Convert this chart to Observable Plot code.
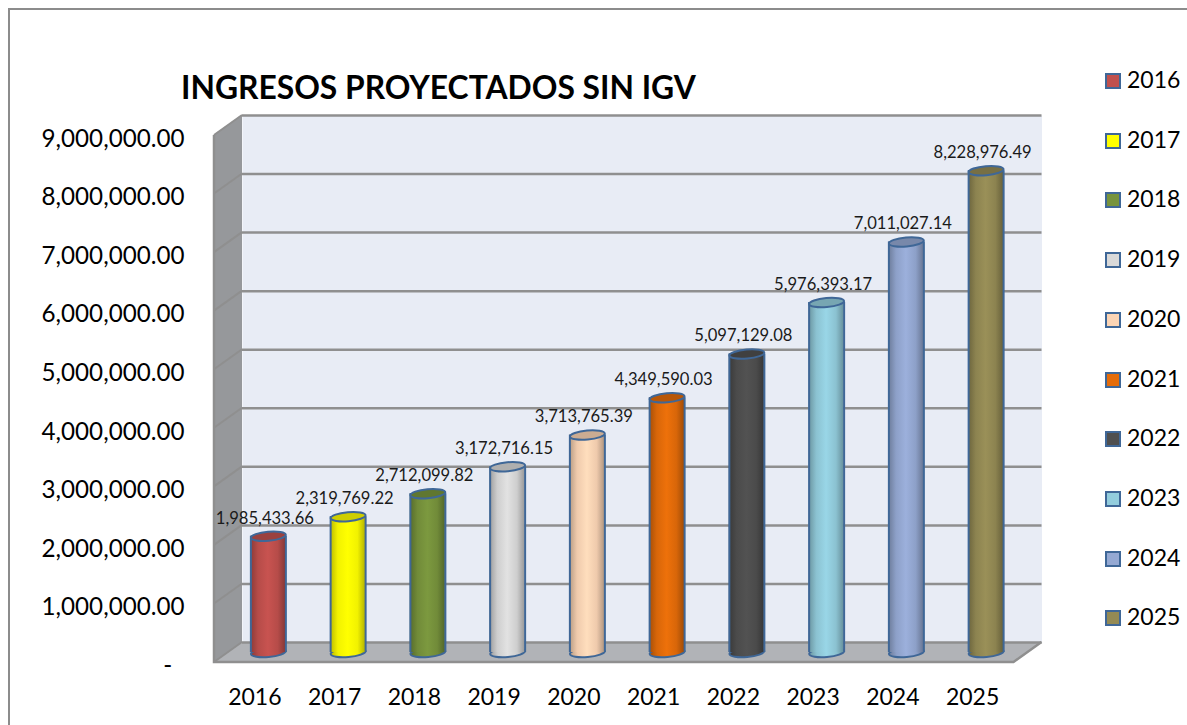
<!DOCTYPE html>
<html>
<head>
<meta charset="utf-8">
<script src="https://cdn.jsdelivr.net/npm/d3@7"></script>
<script src="https://cdn.jsdelivr.net/npm/@observablehq/plot@0.6"></script>
<style>
  html,body{margin:0;padding:0;background:#fff;overflow:hidden}
  #wrap{position:relative;width:1187px;height:725px;font-family:Lato,sans-serif;color:#000}
  #border{position:absolute;left:8px;top:8px;right:0;bottom:0;border-top:2px solid #8c8c8c;border-left:2px solid #8c8c8c}
  #title{position:absolute;left:181px;top:69px;font-weight:700;font-size:31.8px;line-height:36px;white-space:nowrap}
  #legend{position:absolute;left:1105px;top:0}
  .item{position:absolute;left:0;height:28px;white-space:nowrap;font-size:23px;line-height:28px}
  .sw{position:absolute;left:0;top:6px;width:12px;height:12px;border:2px solid #3f6797}
  .lb{position:absolute;left:22px;top:-2px}
  svg{position:absolute;left:0;top:0}
</style>
</head>
<body>
<div id="wrap">
  <div id="border"></div>
  <div id="title">INGRESOS PROYECTADOS SIN IGV</div>
  <div id="legend"></div>
</div>
<script>
const years = [2016, 2017, 2018, 2019, 2020, 2021, 2022, 2023, 2024, 2025];
const values = [1985433.66, 2319769.22, 2712099.82, 3172716.15, 3713765.39, 4349590.03, 5097129.08, 5976393.17, 7011027.14, 8228976.49];
const colors = ["#C0504D", "#FFFF00", "#77933C", "#D9D9D9", "#FCD5B5", "#E46C0A", "#4F4F4F", "#93CDDD", "#95A9D3", "#948A54"];
const tickValues = [0, 1e6, 2e6, 3e6, 4e6, 5e6, 6e6, 7e6, 8e6, 9e6];

const rows = years.map((year, i) => ({year: String(year), value: values[i], color: colors[i]}));
const fmt = d3.format(",.2f");
const depthX = 28, depthY = -20, midX = 13.5, midY = -10;
const borderBlue = "#3f6797", gridGray = "#8f8f8f";
const rx = 17.5, ry = 4.5, tilt = -5 * Math.PI / 180;

// Tilted ellipse used as the cylinder's caps
const capSymbol = {
  draw(ctx) {
    const k = 0.5523, c = Math.cos(tilt), s = Math.sin(tilt);
    const p = (x, y) => [x * c - y * s, x * s + y * c];
    const seg = (a, b, e) => ctx.bezierCurveTo(...p(...a), ...p(...b), ...p(...e));
    ctx.moveTo(...p(rx, 0));
    seg([rx, ry * k], [rx * k, ry], [0, ry]);
    seg([-rx * k, ry], [-rx, ry * k], [-rx, 0]);
    seg([-rx, -ry * k], [-rx * k, -ry], [0, -ry]);
    seg([rx * k, -ry], [rx, -ry * k], [rx, 0]);
    ctx.closePath();
  }
};

// Side wall, floor and their edges, placed from the chart's scale and frame
function walls(index, scales, values, dims) {
  const {marginLeft: l, marginTop: t, width, marginRight: r, height, marginBottom: b} = dims;
  const R = width - r, B = height - b;
  const g = d3.create("svg:g");
  g.append("path").attr("fill", "#96989b")
    .attr("d", `M${l},${t}L${l + depthX},${t + depthY}V${B + depthY}L${l},${B}Z`);
  g.append("path").attr("fill", "#b1b3b7")
    .attr("d", `M${l},${B}L${l + depthX},${B + depthY}H${R + depthX}L${R},${B}Z`);
  for (const v of tickValues) {
    const y = scales.y(v);
    g.append("line").attr("x1", l).attr("x2", l + depthX).attr("y1", y).attr("y2", y + depthY)
      .attr("stroke", gridGray).attr("stroke-width", 2);
  }
  g.append("path").attr("fill", "none").attr("stroke", gridGray).attr("stroke-width", 2.5)
    .attr("d", `M${l},${t}V${B}H${R}L${R + depthX},${B + depthY}`);
  return g.node();
}

const plot = Plot.plot({
  width: 1187,
  height: 725,
  marginLeft: 214,
  marginRight: 173.5,
  marginTop: 135,
  marginBottom: 63,
  style: {fontFamily: "Lato, sans-serif", background: "transparent", color: "#000"},
  x: {domain: rows.map(d => d.year), range: [214.5, 1012], round: false, paddingInner: 0.56, paddingOuter: 0.28, label: null},
  y: {domain: [0, 9e6], label: null},
  color: {type: "identity"},
  marks: [
    Plot.frame({fill: "#e8ecf5", stroke: null, dx: depthX, dy: depthY}),
    walls,
    Plot.ruleY(tickValues, {dx: depthX, dy: depthY, stroke: gridGray, strokeWidth: 2.5}),
    Plot.dot(rows, {x: "year", y: () => 0, symbol: capSymbol, dx: midX, dy: midY,
      fill: d => `url(#g${d.year})`, stroke: borderBlue, strokeWidth: 2}),
    Plot.barY(rows, {x: "year", y: "value", dx: midX, dy: midY, fill: d => `url(#g${d.year})`}),
    Plot.ruleX(rows, {x: "year", y1: () => 0, y2: "value", dx: midX - rx, dy: midY, stroke: borderBlue, strokeWidth: 2}),
    Plot.ruleX(rows, {x: "year", y1: () => 0, y2: "value", dx: midX + rx, dy: midY, stroke: borderBlue, strokeWidth: 2}),
    Plot.dot(rows, {x: "year", y: "value", symbol: capSymbol, dx: midX, dy: midY,
      fill: d => d3.color(d.color).darker(0.6).formatHex(), stroke: borderBlue, strokeWidth: 2}),
    Plot.text(rows, {x: "year", y: "value", text: d => fmt(d.value), dx: midX - 3.5, dy: midY - 18,
      fontSize: 16.6, fill: "#1a1a1a"}),
    Plot.axisX({tickSize: 0, tickPadding: 26, fontSize: 23, label: null, fill: "#000"}),
    Plot.axisY(tickValues, {tickSize: 0, tickPadding: 30, fontSize: 24.2, label: null, dy: 3.5, fill: "#000",
      tickFormat: d => d === 0 ? "-\u00a0\u00a0" : fmt(d)})
  ]
});

const defs = d3.select(plot).insert("defs", ":first-child");
rows.forEach(d => {
  const base = d3.color(d.color);
  const grad = defs.append("linearGradient").attr("id", `g${d.year}`)
    .attr("x1", 0).attr("x2", 1).attr("y1", 0).attr("y2", 0);
  [[0, base.darker(0.9)], [0.22, base.darker(0.15)], [0.5, base.brighter(0.12)], [0.78, base.darker(0.15)], [1, base.darker(1)]]
    .forEach(([o, c]) => grad.append("stop").attr("offset", o).attr("stop-color", c.formatHex()));
});
document.getElementById("wrap").appendChild(plot);

const legend = d3.select("#legend");
rows.forEach((d, i) => {
  const item = legend.append("div").attr("class", "item").style("top", `${67 + i * 59.7}px`);
  item.append("div").attr("class", "sw").style("background", d.color);
  item.append("div").attr("class", "lb").text(d.year);
});
</script>
</body>
</html>
